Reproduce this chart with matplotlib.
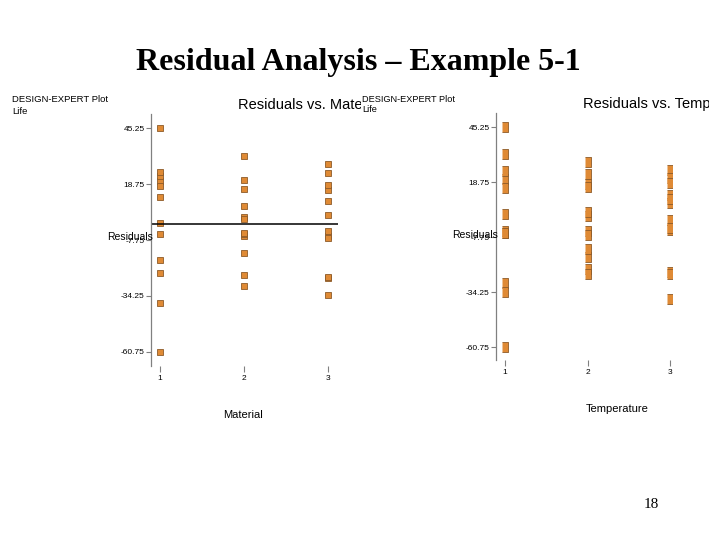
import matplotlib.pyplot as plt
from matplotlib.transforms import Bbox, TransformedBbox

plt.rcParams['font.family'] = ['Liberation Sans', 'DejaVu Sans']

# residuals from the battery life experiment, [temperature level][replicate]
resid_mat1 = [[-4.75, 20.25, -60.75, 45.25], [-23.25, -17.25, 22.75, 17.75], [-37.5, 12.5, 24.5, 0.5]]
resid_mat2 = [[-5.75, 32.25, 3.25, -29.75], [16.25, 2.25, -13.75, -4.75], [-24.5, 20.5, 8.5, -4.5]]
resid_mat3 = [[-6.0, -34.0, 24.0, 16.0], [28.25, -25.75, 4.25, -6.75], [10.5, 18.5, -3.5, -25.5]]
levels = [1, 2, 3]
y_ticks = [-60.75, -34.25, -7.75, 18.75, 45.25]
y_tick_labels = ["-60.75", "-34.25", "-7.75", "18.75", "45.25"]

W, H = 720, 540
FILL = "#DF8A35"
EDGE = "#8C5A28"


def px_axes(fig, left, top, right, bottom):
    return fig.add_axes([left / W, 1 - bottom / H, (right - left) / W, (bottom - top) / H])


def style_axes(ax, xlim, ylim):
    ax.set_xlim(xlim)
    ax.set_ylim(ylim)
    for s in ["top", "right", "bottom"]:
        ax.spines[s].set_visible(False)
    ax.spines["left"].set_color("#808080")
    ax.spines["left"].set_linewidth(0.9)
    ax.set_xticks(levels)
    ax.set_yticks(y_ticks)
    ax.set_yticklabels(y_tick_labels)
    ax.tick_params(axis="x", colors="#808080", labelcolor="black", labelsize=6, length=4.3, width=0.8, pad=2)
    ax.tick_params(axis="y", colors="#808080", labelcolor="black", labelsize=6, length=3.6, width=0.8, pad=1)
    ax.patch.set_alpha(0)


def clipped_text(fig, x, y, s, x_max, **kw):
    t = fig.text(x / W, 1 - y / H, s, **kw)
    t.set_clip_box(TransformedBbox(Bbox.from_extents(0, 0, x_max / W, 1), fig.transFigure))
    t.set_clip_on(True)
    return t


fig = plt.figure(figsize=(7.2, 5.4), dpi=100)

fig.text(358.5 / W, 1 - 70 / H, "Residual Analysis \u2013 Example 5-1", family="Liberation Serif",
         weight="bold", fontsize=23, ha="center", va="baseline")
fig.text(651 / W, 1 - 505 / H, "18", family="Liberation Serif", fontsize=11, ha="center", va="center")

# left: residuals vs material
ax1 = px_axes(fig, 151, 114, 338, 366)
style_axes(ax1, (0.893, 3.12), (-67.4, 51.9))
for m, res in zip(levels, [resid_mat1, resid_mat2, resid_mat3]):
    vals = [r for grp in res for r in grp]
    ax1.plot([m] * len(vals), vals, "s", ms=4.4, mfc=FILL, mec=EDGE, mew=0.6)
ax1.axhline(0, color="black", lw=1.1)

fig.text(12 / W, 1 - 100 / H, "DESIGN-EXPERT Plot", fontsize=6.8, va="center")
fig.text(12 / W, 1 - 111.5 / H, "Life", fontsize=6.8, va="center")
clipped_text(fig, 238, 105, "Residuals vs. Material", 361, fontsize=10.5, va="center")
fig.text(107 / W, 1 - 237 / H, "Residuals", fontsize=7.5, va="center")
fig.text(243 / W, 1 - 415 / H, "Material", fontsize=8, ha="center", va="center")

# right: residuals vs temperature
ax2 = px_axes(fig, 496, 113, 672, 360)
style_axes(ax2, (0.891, 3.024), (-67.0, 52.0))
narrow = [(-0.35, -0.5), (0.35, -0.5), (0.35, 0.5), (-0.35, 0.5)]
for t in levels:
    vals = [r for res in [resid_mat1, resid_mat2, resid_mat3] for r in res[t - 1]]
    ax2.plot([t] * len(vals), vals, marker=narrow, ls="none", ms=6.5, mfc=FILL, mec=EDGE, mew=0.6)

fig.text(362 / W, 1 - 99 / H, "DESIGN-EXPERT Plot", fontsize=6.6, va="center")
fig.text(362 / W, 1 - 110 / H, "Life", fontsize=6.6, va="center")
clipped_text(fig, 583, 104, "Residuals vs. Temperature", 709, fontsize=10.5, va="center")
fig.text(452 / W, 1 - 235 / H, "Residuals", fontsize=7.5, va="center")
fig.text(617 / W, 1 - 409 / H, "Temperature", fontsize=8, ha="center", va="center")

fig.savefig("out.png", dpi=100)
